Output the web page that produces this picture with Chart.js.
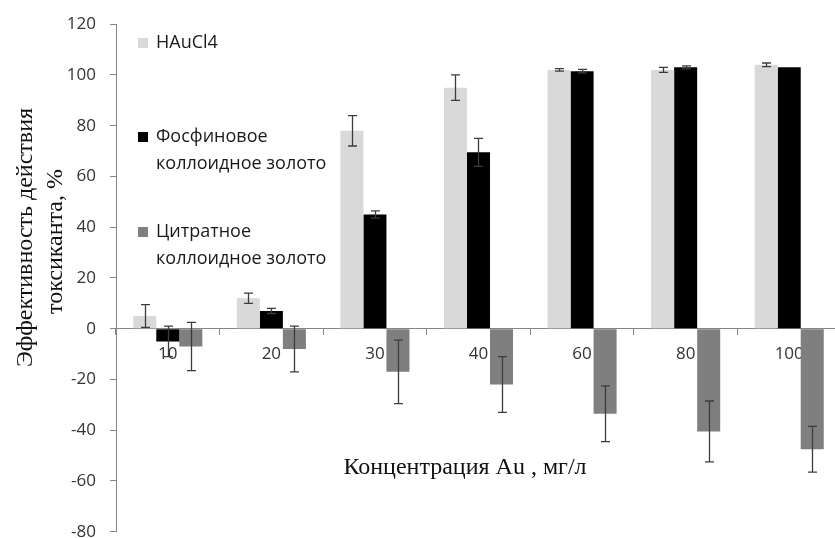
<!DOCTYPE html>
<html>
<head>
<meta charset="utf-8">
<script src="https://cdn.jsdelivr.net/npm/chart.js@4.4.1/dist/chart.umd.min.js"></script>
<style>
  html, body { margin: 0; padding: 0; background: #ffffff; overflow: hidden; }
  #wrap { width: 835px; height: 538px; overflow: hidden; }
  canvas { display: block; }
</style>
</head>
<body>
<div id="wrap"><canvas id="chart" width="841" height="560"></canvas></div>
<script>
// Concentration groups (mg/L)
const categories = ['10', '20', '30', '40', '60', '80', '100'];

// Toxicant efficiency, % (mean values)
const hauclValues     = [5, 12, 78, 95, 102, 102, 104];
const phosphineValues = [-5, 7, 45, 69.5, 101.5, 103, 103];
const citrateValues   = [-7, -8, -17, -22, -33.5, -40.5, -47.5];

// Error half-widths, %
const hauclErrors     = [4.5, 2, 6, 5, 0.5, 1, 0.7];
const phosphineErrors = [6, 1, 1.4, 5.5, 0.7, 0.6, 0];
const citrateErrors   = [9.5, 9, 12.5, 11, 11, 12, 9];

// Y axis tick range
const yTickMin = -80;
const yTickMax = 120;
const yTickStep = 20;

const seriesNames = ['HAuCl4', 'Фосфиновое коллоидное золото', 'Цитратное коллоидное золото'];
const seriesColors = ['#d9d9d9', '#000000', '#7f7f7f'];

const TICK_FONT = { family: '"Open Sans", "DejaVu Sans", sans-serif', size: 17 };
const AXIS_GREY = '#868686';

// Error bars drawn from each dataset's `errors` array through the y scale
const errorBarPlugin = {
  id: 'errorBars',
  afterDatasetsDraw(chart) {
    const ctx = chart.ctx;
    const y = chart.scales.y;
    ctx.save();
    ctx.strokeStyle = '#3c3c3c';
    ctx.lineWidth = 1.3;
    chart.data.datasets.forEach((ds, di) => {
      const meta = chart.getDatasetMeta(di);
      meta.data.forEach((bar, i) => {
        const err = ds.errors[i];
        if (!err) return;
        const v = ds.data[i];
        const yHi = y.getPixelForValue(v + err);
        const yLo = y.getPixelForValue(v - err);
        const x = Math.round(bar.x) + 0.5;
        const cap = 4.5;
        ctx.beginPath();
        ctx.moveTo(x, yHi); ctx.lineTo(x, yLo);
        ctx.moveTo(x - cap, yHi); ctx.lineTo(x + cap, yHi);
        ctx.moveTo(x - cap, yLo); ctx.lineTo(x + cap, yLo);
        ctx.stroke();
      });
    });
    ctx.restore();
  }
};

// Legend block and axis titles
const annotationPlugin = {
  id: 'annotations',
  afterDraw(chart) {
    const ctx = chart.ctx;
    ctx.save();

    // legend
    const legendFont = '18px "Open Sans", "DejaVu Sans", sans-serif';
    const entries = [
      { color: seriesColors[0], lines: ['HAuCl4'], y: 43 },
      { color: seriesColors[1], lines: ['Фосфиновое', 'коллоидное золото'], y: 137 },
      { color: seriesColors[2], lines: ['Цитратное', 'коллоидное золото'], y: 232 }
    ];
    ctx.font = legendFont;
    ctx.textBaseline = 'middle';
    ctx.textAlign = 'left';
    entries.forEach(e => {
      ctx.fillStyle = e.color;
      ctx.fillRect(138, e.y - 5, 10, 10);
      ctx.fillStyle = '#1a1a1a';
      e.lines.forEach((line, k) => {
        ctx.fillText(line, 156, e.y + k * 27);
      });
    });

    // y axis title (two lines, rotated)
    ctx.fillStyle = '#111111';
    ctx.font = '24px "Liberation Serif", "Times New Roman", serif';
    ctx.textAlign = 'center';
    ctx.textBaseline = 'alphabetic';
    [['Эффективность действия', 32, 237.5], ['токсиканта, %', 62, 241.5]].forEach(([t, bx, cy]) => {
      ctx.save();
      ctx.translate(bx, cy);
      ctx.rotate(-Math.PI / 2);
      ctx.fillText(t, 0, 0);
      ctx.restore();
    });

    // x axis title
    ctx.font = '24px "Liberation Serif", "Times New Roman", serif';
    ctx.fillText('Концентрация Au , мг/л', 465, 474);

    ctx.restore();
  }
};

new Chart(document.getElementById('chart'), {
  type: 'bar',
  data: {
    labels: categories,
    datasets: [
      { label: seriesNames[0], data: hauclValues, errors: hauclErrors, backgroundColor: seriesColors[0] },
      { label: seriesNames[1], data: phosphineValues, errors: phosphineErrors, backgroundColor: seriesColors[1] },
      { label: seriesNames[2], data: citrateValues, errors: citrateErrors, backgroundColor: seriesColors[2] }
    ]
  },
  options: {
    responsive: false,
    animation: false,
    layout: { padding: { top: 23.3, right: 0, bottom: 28.3, left: 0 } },
    datasets: { bar: { categoryPercentage: 0.667, barPercentage: 1.0 } },
    plugins: { legend: { display: false }, tooltip: { enabled: false } },
    scales: {
      x: {
        position: { y: 0 },
        offset: true,
        grid: { display: true, drawOnChartArea: false, offset: true, tickLength: 6, color: AXIS_GREY },
        border: { color: AXIS_GREY, width: 1 },
        ticks: { font: TICK_FONT, color: '#333333', padding: 9, maxRotation: 0 }
      },
      y: {
        min: yTickMin,
        max: yTickMax,
        ticks: { stepSize: yTickStep, font: TICK_FONT, color: '#333333', padding: 14 },
        grid: { drawOnChartArea: false, tickLength: 6, color: AXIS_GREY },
        border: { color: AXIS_GREY, width: 1 },
        afterFit(scale) { scale.width = 116; }
      }
    }
  },
  plugins: [errorBarPlugin, annotationPlugin]
});
</script>
</body>
</html>
